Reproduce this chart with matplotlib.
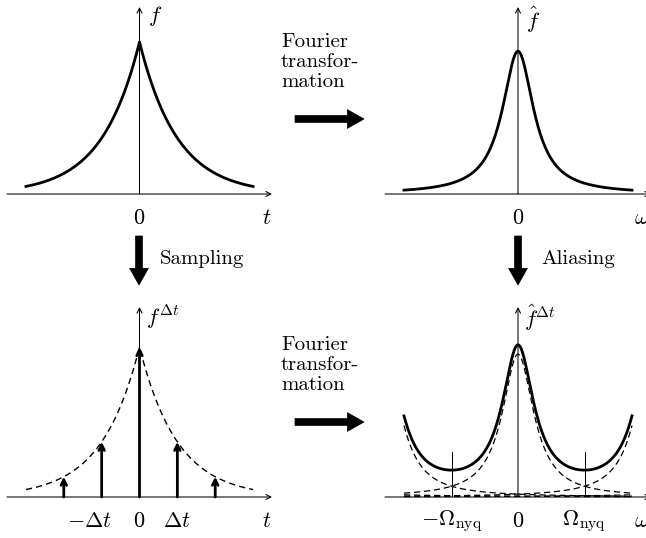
import numpy as np
import matplotlib.pyplot as plt

plt.rcParams['mathtext.fontset'] = 'cm'
plt.rcParams['font.family'] = 'cmr10'
plt.rcParams['axes.unicode_minus'] = False

W, H = 646, 538

# signal / spectrum parameters
t_max = 3.0            # extent of the drawn curves
axis_half = 3.5        # extent of the horizontal axes
gamma = 0.5            # half width of the Lorentzian spectrum
dt = 1.0               # sampling step
omega_nyq = 1.75       # Nyquist frequency
sample_idx = [-2, -1, 0, 1, 2]
alias_copies = [-2, -1, 0, 1, 2]
n_periodic = 40        # copies summed for the periodised spectrum

time_ticks = [-dt, 0.0, dt]
time_labels = [r'$-\Delta t$', r'$0$', r'$\Delta t$']
freq_ticks = [-omega_nyq, 0.0, omega_nyq]
freq_labels = [r'$-\Omega_{\mathrm{nyq}}$', r'$0$', r'$\Omega_{\mathrm{nyq}}$']
nyq_marker_height = 0.315

step_text = ['Fourier\ntransfor-\nmation', 'Sampling', 'Aliasing']

FS = 15
FS_MATH = 16
LW_CURVE = 2.0
LW_AXIS = 0.75


def signal(t):
    return np.exp(-np.abs(t))


def spectrum(w):
    return 1.0 / (1.0 + (w / gamma) ** 2)


def panel(fig, x0, x1, y_axis, y_top, ymax):
    # rect given in pixels from the top-left corner
    ax = fig.add_axes([x0 / W, 1 - y_axis / H, (x1 - x0) / W, (y_axis - y_top) / H])
    ax.set_xlim(-axis_half, axis_half)
    ax.set_ylim(0, ymax)
    ax.axis('off')
    arrow = dict(arrowstyle='->', lw=LW_AXIS, color='k', shrinkA=0, shrinkB=0,
                 mutation_scale=9)
    ax.annotate('', xy=(axis_half, 0), xytext=(-axis_half, 0), arrowprops=arrow,
                annotation_clip=False)
    ax.annotate('', xy=(0, ymax), xytext=(0, 0), arrowprops=arrow,
                annotation_clip=False)
    return ax


def xlabel(ax, x, text, dx=0, dy=-24):
    ax.annotate(text, xy=(x, 0), xytext=(dx, dy), textcoords='offset pixels',
                ha='center', va='center', fontsize=FS_MATH, annotation_clip=False)


def ylabel(ax, text, dx=7, dy=-11):
    ax.annotate(text, xy=(0, ax.get_ylim()[1]), xytext=(dx, dy),
                textcoords='offset pixels', ha='left', va='center',
                fontsize=FS_MATH, annotation_clip=False)


fig = plt.figure(figsize=(W / 100, H / 100), dpi=100)

t = np.linspace(-t_max, t_max, 601)
w = np.linspace(-t_max, t_max, 601)

# top left: the signal
ax1 = panel(fig, 7, 272, 194, 7, 1.23)
ax1.plot(t, signal(t), color='k', lw=LW_CURVE, clip_on=False)
xlabel(ax1, 0, '$0$')
xlabel(ax1, axis_half, '$t$', dx=-5)
ylabel(ax1, '$f$', dx=9, dy=-9)

# top right: its Fourier transform
ax2 = panel(fig, 385, 651, 194, 7, 1.31)
ax2.plot(w, spectrum(w), color='k', lw=LW_CURVE, clip_on=False)
xlabel(ax2, 0, '$0$')
xlabel(ax2, axis_half, r'$\omega$', dx=-9)
ylabel(ax2, r'$\hat{f}$', dx=8, dy=-13)

# bottom left: sampled signal
ax3 = panel(fig, 7, 272, 497, 307, 1.267)
ax3.plot(t, signal(t), color='k', lw=1.0, ls=(0, (4.5, 3)), clip_on=False)
for k in sample_idx:
    ax3.annotate('', xy=(k * dt, signal(k * dt)), xytext=(k * dt, 0),
                 arrowprops=dict(arrowstyle='->', lw=2.0, color='k',
                                 shrinkA=0, shrinkB=0, mutation_scale=10),
                 annotation_clip=False)
for x, lab in zip(time_ticks, time_labels):
    xlabel(ax3, x, lab, dx=-12 if x < 0 else 0)
xlabel(ax3, axis_half, '$t$', dx=-5)
ylabel(ax3, r'$f^{\Delta t}$', dx=6, dy=-11)

# bottom right: periodised (aliased) spectrum
ax4 = panel(fig, 385, 651, 497, 307, 1.33)
period = 2 * omega_nyq
periodic = sum(spectrum(w - k * period) for k in range(-n_periodic, n_periodic + 1))
for k in alias_copies:
    ax4.plot(w, spectrum(w - k * period), color='k', lw=0.9, ls=(0, (5, 3)),
             clip_on=False)
ax4.plot(w, periodic, color='k', lw=LW_CURVE, clip_on=False)
for x in (-omega_nyq, omega_nyq):
    ax4.plot([x, x], [0, nyq_marker_height], color='k', lw=LW_AXIS)
for x, lab in zip(freq_ticks, freq_labels):
    xlabel(ax4, x, lab)
xlabel(ax4, axis_half, r'$\omega$', dx=-9)
ylabel(ax4, r'$\hat{f}^{\Delta t}$', dx=6, dy=-11)


def px(x, y):
    return (x, H - y)


def thick_arrow(start, end):
    fig.add_artist(plt.matplotlib.text.Annotation(
        '', xy=px(*end), xytext=px(*start), xycoords='figure pixels',
        textcoords='figure pixels',
        arrowprops=dict(arrowstyle='simple,head_width=1.35,head_length=1.2,tail_width=0.5',
                        fc='k', ec='k', lw=0.5, shrinkA=0, shrinkB=0,
                        mutation_scale=10)))


def step(x, y, text):
    fig.text(x / W, 1 - y / H, text, fontsize=FS, ha='left', va='center',
             linespacing=1.15)


# transform steps between the panels
for dy in (0, 303):
    step(281, 62 + dy, step_text[0])
    thick_arrow((295, 119 + dy), (364, 119 + dy))

thick_arrow((139, 236), (139, 285))
step(160, 259, step_text[1])
thick_arrow((518, 236), (518, 285))
step(541, 259, step_text[2])

fig.savefig('out.png', dpi=100)
